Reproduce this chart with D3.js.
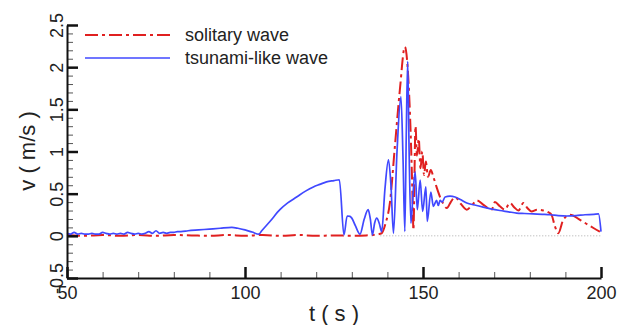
<!DOCTYPE html>
<html>
<head>
<meta charset="utf-8">
<script src="https://cdn.jsdelivr.net/npm/d3@7"></script>
<style>
  body{margin:0;background:#fff;}
  text{font-family:"Liberation Sans",Arial,sans-serif;fill:#222;}
</style>
</head>
<body>
<svg id="canvas"></svg>
<script>
// series: [t (s), v (m/s)]
let solitary=[[50,0.01],[55,0.0],[60,0.01],[65,0.0],[70,0.01],[75,0.0],[80,0.01],[85,0.005],[90,0.0],[95,0.01],[100,0.0],[105,0.01],[110,0.0],[115,0.01],[120,0.0],[125,0.005],[130,0.0],[134,0.005],[136,0.01],[138.4,0.03],[139.5,0.15],[140.7,0.39],[142.1,1.06],[143.5,1.73],[144.9,2.24],[145.9,1.85],[146.5,1.26],[147.1,0.39],[147.3,0.07],[147.9,1.3],[148.3,0.95],[148.8,1.15],[149.3,0.8],[149.8,1.0],[150.3,0.72],[150.8,0.88],[151.4,0.7],[152.2,0.78],[152.9,0.7],[153.8,0.58],[154.8,0.46],[155.7,0.38],[156.7,0.33],[157.8,0.4],[159,0.46],[160.6,0.38],[162.3,0.31],[163.7,0.36],[165.1,0.42],[167.2,0.36],[169.3,0.31],[170.2,0.4],[171.6,0.35],[173,0.31],[174.4,0.39],[175.6,0.34],[176.8,0.3],[178.2,0.39],[179.3,0.33],[180.5,0.29],[182,0.31],[183.8,0.3],[185.2,0.28],[186.1,0.25],[187,0.12],[188,0.03],[189.4,0.19],[191.3,0.25],[194.1,0.19],[196.4,0.13],[198,0.09],[199.7,0.05]];

let tsunami=[[50,0.03],[51,0.02],[52,0.04],[53,0.02],[54,0.03],[55,0.02],[56,0.02],[57,0.03],[58,0.02],[59,0.02],[60,0.04],[61,0.03],[62,0.02],[63,0.03],[64,0.02],[65,0.03],[66,0.02],[67,0.04],[68,0.03],[69,0.02],[70,0.03],[71,0.02],[72,0.03],[73,0.05],[74,0.03],[75,0.06],[76,0.03],[77,0.04],[78,0.03],[79,0.04],[80,0.04],[81,0.05],[82,0.05],[84,0.06],[87,0.07],[90,0.08],[93,0.09],[96.3,0.1],[98,0.09],[100,0.07],[102,0.045],[103.9,0.02],[104.7,0.06],[107,0.17],[109.8,0.31],[112,0.39],[114.5,0.46],[117,0.53],[119.2,0.58],[121,0.61],[122.9,0.64],[125,0.655],[126.5,0.665],[127.8,0.01],[128.7,0.235],[129.5,0.23],[130,0.21],[131,0.12],[132.3,0.02],[133.5,0.2],[134.6,0.31],[135.2,0.2],[135.8,0.01],[136.4,0.15],[137,0.21],[137.7,0.15],[138.4,0.05],[139.3,0.55],[140.3,0.9],[141,0.6],[141.7,0.03],[142.7,1.0],[143.8,1.65],[144.4,0.9],[144.9,0.05],[145.3,1.2],[145.7,2.07],[146.1,1.0],[146.6,0.15],[147.2,0.5],[147.8,0.76],[148.4,0.31],[149.2,0.66],[149.9,0.29],[150.8,0.58],[151.2,0.17],[152.2,0.52],[152.9,0.35],[153.8,0.42],[154.3,0.36],[154.8,0.42],[155.4,0.4],[156.2,0.46],[157.6,0.47],[159,0.46],[160.5,0.43],[162.3,0.39],[164.5,0.365],[166.9,0.34],[169,0.32],[171.6,0.3],[174,0.285],[176.3,0.27],[178.5,0.265],[181,0.26],[183.5,0.255],[185.7,0.25],[188,0.24],[190.4,0.235],[193,0.24],[195.5,0.25],[198,0.255],[199.3,0.26],[200,0.05]];

let seriesNames=['solitary wave','tsunami-like wave'];
let xTicks=[50,100,150,200];
let yTicks=[-0.5,0,0.5,1,1.5,2,2.5];
let zeroLine=[[138,0],[200,0]];

let width=629;
let height=325;

let canvas=d3.select('#canvas')
canvas.attr('width',width)
canvas.attr('height',height)

let xScale=d3.scaleLinear()
  .domain([50,200])
  .range([67,601])

let yScale=d3.scaleLinear()
  .domain([-0.5,2.5])
  .range([278,25])

let drawAxis=()=>{
  // minor ticks first
  let xMinor=d3.axisBottom(xScale)
    .tickValues(d3.range(50,201,10))
    .tickSize(-6)
    .tickFormat('')
  canvas.append('g')
    .attr('transform','translate(0,278)')
    .call(xMinor)
    .call(g=>g.select('.domain').remove())
    .selectAll('line').attr('stroke','#555').attr('stroke-width',1)

  let yMinor=d3.axisLeft(yScale)
    .tickValues(d3.range(-5,26,1).map(d=>d/10))
    .tickSize(-6)
    .tickFormat('')
  canvas.append('g')
    .attr('transform','translate(67,0)')
    .call(yMinor)
    .call(g=>g.select('.domain').remove())
    .selectAll('line').attr('stroke','#555').attr('stroke-width',1)

  let xAxis=d3.axisBottom(xScale)
    .tickValues(xTicks)
    .tickSize(-11)
    .tickSizeOuter(0)
    .tickPadding(8)
    .tickFormat(d3.format('d'))
  let gx=canvas.append('g')
    .attr('id','x-axis')
    .attr('transform','translate(0,278)')
    .call(xAxis)
  gx.select('.domain').attr('stroke','#111').attr('stroke-width',2)
  gx.selectAll('line').attr('stroke','#111').attr('stroke-width',2.5)
  gx.selectAll('text').attr('font-size',18).style('fill','#222')

  let yAxis=d3.axisLeft(yScale)
    .tickValues(yTicks)
    .tickSize(-11)
    .tickSizeOuter(0)
    .tickFormat(d=>d)
  let gy=canvas.append('g')
    .attr('id','y-axis')
    .attr('transform','translate(67,0)')
    .call(yAxis)
  gy.select('.domain').attr('stroke','#111').attr('stroke-width',2)
  gy.selectAll('line').attr('stroke','#111').attr('stroke-width',2.5)
  gy.selectAll('text')
    .attr('font-size',18)
    .style('fill','#222')
    .attr('x',0).attr('dy',0)
    .attr('text-anchor','middle')
    .attr('transform','translate(-4,0) rotate(-90)')

  canvas.append('text')
    .attr('x',334).attr('y',321)
    .attr('text-anchor','middle')
    .attr('font-size',22)
    .text('t ( s )')

  canvas.append('text')
    .attr('transform','translate(35,151) rotate(-90)')
    .attr('text-anchor','middle')
    .attr('font-size',22)
    .text('v ( m/s )')
}

let drawLines=()=>{
  let line=d3.line()
    .curve(d3.curveMonotoneX)
    .x(d=>xScale(d[0]))
    .y(d=>yScale(d[1]))

  canvas.append('path')
    .datum(zeroLine)
    .attr('d',line)
    .attr('fill','none')
    .attr('stroke','#aaa')
    .attr('stroke-width',1)
    .attr('stroke-dasharray','1,2')

  canvas.append('path')
    .datum(solitary)
    .attr('d',line)
    .attr('fill','none')
    .attr('stroke','#e02020')
    .attr('stroke-width',2)
    .attr('stroke-dasharray','13,4,3,4')

  canvas.append('path')
    .datum(tsunami)
    .attr('d',line)
    .attr('fill','none')
    .attr('stroke','#4048ff')
    .attr('stroke-width',1.7)
}

let drawLegend=()=>{
  let styles=[{stroke:'#e02020',dash:'13,4,3,4',w:2},{stroke:'#4048ff',dash:null,w:1.7}]
  let ys=[35,58]
  seriesNames.forEach((name,i)=>{
    canvas.append('line')
      .attr('x1',85).attr('x2',170)
      .attr('y1',ys[i]).attr('y2',ys[i])
      .attr('stroke',styles[i].stroke)
      .attr('stroke-width',styles[i].w)
      .attr('stroke-dasharray',styles[i].dash)
    canvas.append('text')
      .attr('x',185).attr('y',ys[i])
      .attr('dy','0.35em')
      .attr('font-size',18)
      .text(name)
  })
}

drawLines();
drawAxis();
drawLegend();
</script>
</body>
</html>
